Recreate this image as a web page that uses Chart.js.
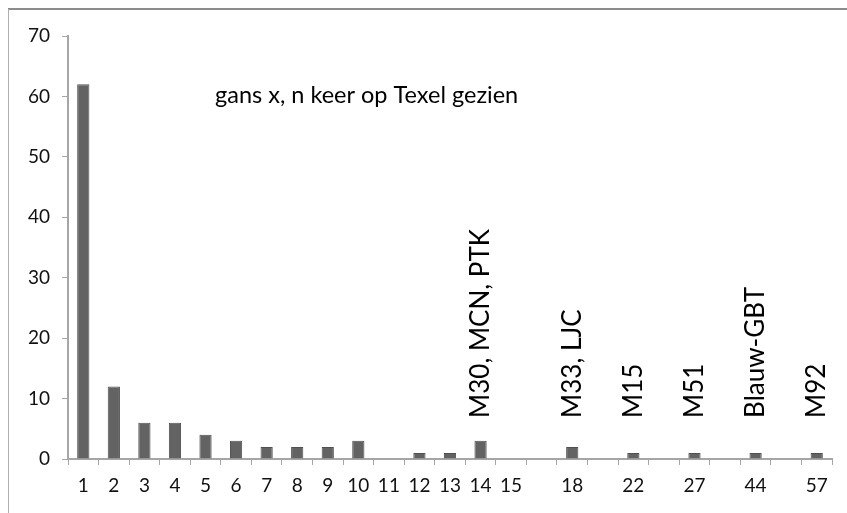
<!DOCTYPE html>
<html lang="nl">
<head>
  <meta charset="UTF-8">
  <title>gans x, n keer op Texel gezien</title>
  <script src="https://cdn.jsdelivr.net/npm/chart.js"></script>
  <style>
    body { margin: 0; background: #fff; }
  </style>
</head>
<body>
  <canvas id="myChart" width="847" height="513"></canvas>

  <script>
    // number of sightings on Texel (empty strings are the gaps in the axis)
    const categories = ['1', '2', '3', '4', '5', '6', '7', '8', '9', '10', '11', '12', '13', '14', '15',
      '', '18', '', '22', '', '27', '', '44', '', '57'];
    // number of geese
    const geese = [62, 12, 6, 6, 4, 3, 2, 2, 2, 3, 0, 1, 1, 3, 0,
      null, 2, null, 1, null, 1, null, 1, null, 1];
    const yTicks = [0, 10, 20, 30, 40, 50, 60, 70];

    // names written above some bars
    const noteCategories = ['14', '18', '22', '27', '44', '57'];
    const noteTexts = ['M30, MCN, PTK', 'M33, LJC', 'M15', 'M51', 'Blauw-GBT', 'M92'];
    const noteText = 'gans x, n keer op Texel gezien';

    const FONT = 'Lato, "Open Sans", sans-serif';
    const axisGrey = '#a6a6a6';

    // frame + notes drawn on top of the chart
    const notesPlugin = {
      id: 'notes',
      beforeDraw(chart) {
        const c = chart.ctx;
        c.save();
        c.strokeStyle = '#8c8c8c';
        c.lineWidth = 2;
        c.beginPath();
        c.moveTo(8, 9);
        c.lineTo(chart.width, 9);
        c.stroke();
        c.strokeStyle = '#b0b0b0';
        c.lineWidth = 1;
        c.beginPath();
        c.moveTo(8.5, 9);
        c.lineTo(8.5, chart.height);
        c.stroke();
        c.restore();
      },
      afterDatasetsDraw(chart) {
        const c = chart.ctx;
        const meta = chart.getDatasetMeta(0);
        const yScale = chart.scales.y;
        c.save();
        c.fillStyle = '#000';
        c.font = '26px ' + FONT;
        c.textAlign = 'left';
        c.textBaseline = 'middle';
        noteCategories.forEach((cat, i) => {
          const idx = categories.indexOf(cat);
          const bar = meta.data[idx];
          c.save();
          c.translate(bar.x, yScale.getPixelForValue(6.8));
          c.rotate(-Math.PI / 2);
          c.fillText(noteTexts[i], 0, 0);
          c.restore();
        });
        c.font = '23.5px ' + FONT;
        c.textBaseline = 'middle';
        c.fillText(noteText, 215, 95);
        c.restore();
      }
    };

    const ctx = document.getElementById('myChart').getContext('2d');

    const myChart = new Chart(ctx, {
      type: 'bar',
      data: {
        labels: categories,
        datasets: [{
          data: geese,
          backgroundColor: '#636363',
          borderColor: '#505050',
          borderWidth: 1,
          categoryPercentage: 1,
          barPercentage: 0.4
        }]
      },
      options: {
        responsive: false,
        animation: false,
        layout: { padding: { left: 8, right: 15, top: 36, bottom: 0 } },
        plugins: {
          legend: { display: false },
          tooltip: { enabled: false }
        },
        scales: {
          x: {
            grid: { drawOnChartArea: false, tickLength: 6, color: axisGrey, offset: true },
            border: { color: axisGrey, width: 2 },
            ticks: {
              color: '#111',
              font: { family: FONT, size: 19 },
              padding: 9,
              maxRotation: 0,
              autoSkip: false
            },
            afterFit(axis) { axis.height = 54; }
          },
          y: {
            min: 0,
            max: 70,
            afterBuildTicks(axis) { axis.ticks = yTicks.map(v => ({ value: v })); },
            grid: { drawOnChartArea: false, tickLength: 6, color: axisGrey },
            border: { color: axisGrey, width: 2 },
            ticks: {
              color: '#111',
              font: { family: FONT, size: 19 },
              padding: 12
            },
            afterFit(axis) { axis.width = 60; }
          }
        }
      },
      plugins: [notesPlugin]
    });
  </script>
</body>
</html>
